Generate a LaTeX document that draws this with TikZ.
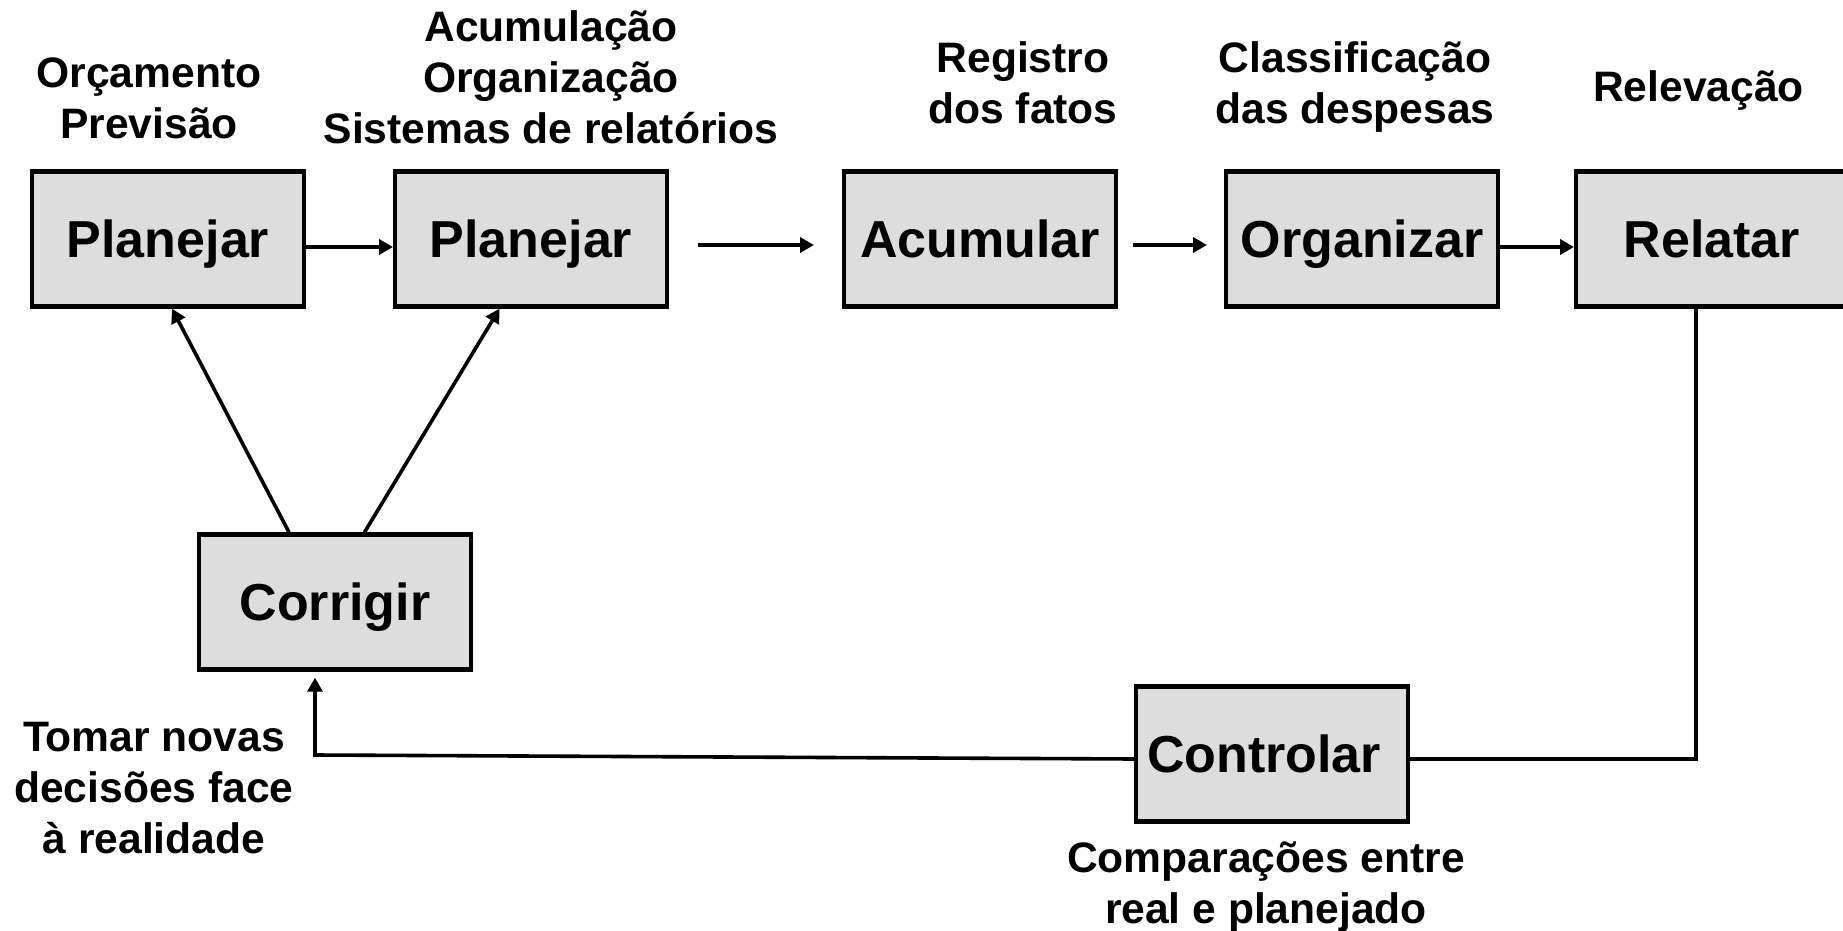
\documentclass[tikz,border=0pt]{standalone}
\usepackage{fontspec}
\setmainfont{Liberation Sans}
\usetikzlibrary{arrows.meta,calc}
\definecolor{boxgray}{RGB}{221,221,221}
\begin{document}
\begin{tikzpicture}[x=0.5pt,y=-0.5pt,
  box/.style={draw=black, line width=2.2pt, fill=boxgray, minimum width=135.8pt, minimum height=67.5pt,
    inner sep=0pt, font=\fontsize{26}{30}\selectfont\bfseries, text height=18.6pt, text depth=0pt},
  lbl/.style={align=center, font=\fontsize{21.3}{25.5}\selectfont\bfseries, inner sep=0pt},
  conn/.style={line width=1.8pt},
  arr/.style={conn, -{Triangle[length=7pt,width=7.5pt]}}
]
\useasboundingbox (0,0) rectangle (1843,931);
\fill[white] (0,0) rectangle (1843,931);

\node[box] (P1) at (168,239) {Planejar};
\node[box] (P2) at (531,239) {Planejar};
\node[box] (AC) at (980,239) {Acumular};
\node[box] (OR) at (1362,239) {Organizar};
\node[box] (RE) at (1712,239) {Relatar};
\node[box] (CO) at (335,602) {Corrigir};
\node[box] (CT) at (1272,754) {\hspace*{-8pt}Controlar};

\draw[arr] ($(P1.east)+(0,8)$) -- ($(P2.west)+(0,8)$);
\coordinate (a1) at (698,245);
\coordinate (a2) at (814,245);
\draw[arr] (a1) -- (a2);
\coordinate (b1) at (1133,245);
\coordinate (b2) at (1207,245);
\draw[arr] (b1) -- (b2);
\draw[arr] ($(OR.east)+(0,8)$) -- ($(RE.west)+(0,8)$);
\draw[conn] ($(RE.south)+(-16,0)$) |- ($(CT.east)+(0,5)$);
\coordinate (c1) at (315,755);
\draw[arr] ($(CT.west)+(0,5)$) -- (c1) -- ($(CO.south)+(-20,6)$);
\draw[arr] ($(CO.north)+(-46,0)$) -- ($(P1.south)+(4,0)$);
\draw[arr] ($(CO.north)+(29.5,0)$) -- ($(P2.south)+(-31.5,0)$);

\node[lbl] (L1) at (149,98.5) {Orçamento\\Previsão};
\node[lbl] (L2) at (551,77) {Acumulação\\Organização\\Sistemas de relatórios};
\node[lbl] (L3) at (1023,82.5) {Registro\\dos fatos};
\node[lbl] (L4) at (1355,87) {Classificação\\das despesas};
\node[lbl, anchor=base] (L5) at (1698.5,102) {Relevação};
\node[lbl] (L6) at (154,788.5) {Tomar novas\\decisões face\\à realidade};
\node[lbl] (L7) at (1266,887) {Comparações entre\\real e planejado};
\end{tikzpicture}
\end{document}
